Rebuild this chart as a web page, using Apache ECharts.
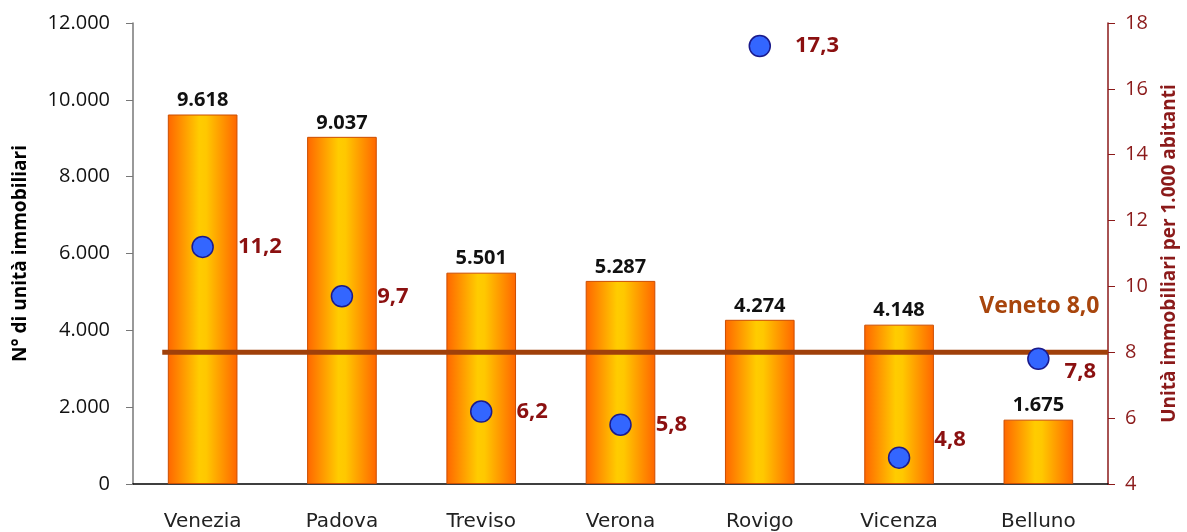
<!DOCTYPE html>
<html><head><meta charset="utf-8">
<script src="https://cdn.jsdelivr.net/npm/echarts@6/dist/echarts.min.js"></script>
<style>html,body{margin:0;padding:0;background:#fff}#c{width:1187px;height:532px}</style>
</head><body><div id="c"></div>
<script>
var categories = ['Venezia','Padova','Treviso','Verona','Rovigo','Vicenza','Belluno'];
var unita = [9618, 9037, 5501, 5287, 4274, 4148, 1675];
var perMille = [11.2, 9.7, 6.2, 5.8, 17.3, 4.8, 7.8];
var veneto = 8.0;
var leftTicks = {min: 0, max: 12000, interval: 2000};
var rightTicks = {min: 4, max: 18, interval: 2};

function fmtIt(v){ return String(v).replace(/\B(?=(\d{3})+(?!\d))/g, '.'); }
function fmtDec(v){ return v.toFixed(1).replace('.', ','); }

var FONT = '"Open Sans", "Noto Sans", sans-serif';
var labelOffsets = [[0,0],[0,0],[0,0],[0,0],[0,0],[0,-18],[-9,13]];

var chart = echarts.init(document.getElementById('c'));
chart.setOption({
  animation: false,
  grid: {left: 133, right: 74, top: 23, bottom: 47},
  xAxis: [{
    type: 'category', data: categories,
    axisLine: {lineStyle: {color: '#000', width: 1.5}},
    axisTick: {show: false},
    axisLabel: {color: '#222', fontSize: 20, fontFamily: 'DejaVu Sans, sans-serif', margin: 28}
  }, {
    type: 'value', min: -0.5, max: categories.length - 0.5, show: false
  }],
  yAxis: [{
    type: 'value', min: leftTicks.min, max: leftTicks.max, interval: leftTicks.interval,
    name: 'N° di unità immobiliari', nameLocation: 'middle', nameGap: 103, nameRotate: 90,
    nameTextStyle: {fontWeight: 'bold', fontSize: 19, color: '#000', fontFamily: FONT},
    axisLine: {show: true, onZero: false, lineStyle: {color: '#777', width: 1.5}},
    axisTick: {show: true, length: 7, lineStyle: {color: '#777'}},
    axisLabel: {color: '#111', fontSize: 20, fontFamily: FONT, margin: 23, formatter: fmtIt},
    splitLine: {show: false}
  }, {
    type: 'value', min: rightTicks.min, max: rightTicks.max, interval: rightTicks.interval,
    name: 'Unità immobiliari per 1.000 abitanti', nameLocation: 'middle', nameGap: 52, nameRotate: 90,
    nameTextStyle: {fontWeight: 'bold', fontSize: 19, color: '#8B1A1A', fontFamily: FONT},
    axisLine: {show: true, onZero: false, lineStyle: {color: '#8B1A1A', width: 1.5}},
    axisTick: {show: true, length: 7, lineStyle: {color: '#8B1A1A'}},
    axisLabel: {color: '#8B1A1A', fontSize: 20, fontFamily: FONT, margin: 17},
    splitLine: {show: false}
  }],
  series: [{
    type: 'bar', data: unita, barWidth: '50%',
    itemStyle: {
      color: new echarts.graphic.LinearGradient(0, 0, 1, 0, [
        {offset: 0, color: '#FF6600'}, {offset: 0.45, color: '#FFCC00'},
        {offset: 0.55, color: '#FFC800'}, {offset: 1, color: '#FF6600'}
      ]),
      borderColor: '#CC4E00', borderWidth: 1
    },
    label: {show: true, position: 'top', distance: 4, formatter: function(p){return fmtIt(p.value);},
      color: '#111', fontWeight: 'bold', fontSize: 20, fontFamily: FONT}
  }, {
    type: 'line', xAxisIndex: 1, yAxisIndex: 1, symbol: 'circle', symbolSize: 1, showSymbol: true,
    itemStyle: {color: 'rgba(0,0,0,0)', borderWidth: 0},
    lineStyle: {color: '#A0400A', width: 5},
    data: [[-0.29, veneto], {value: [categories.length - 0.5, veneto],
      label: {show: true, position: 'left', distance: 8, offset: [0, -46],
        formatter: 'Veneto ' + fmtDec(veneto), color: '#A8450C', fontWeight: 'bold', fontSize: 23, fontFamily: FONT}}],
    z: 3
  }, {
    type: 'scatter', yAxisIndex: 1, symbolSize: 21,
    data: perMille.map(function(v, i){ return {value: v, label: {offset: labelOffsets[i]}}; }),
    itemStyle: {color: '#3366FF', borderColor: '#1A1A8C', borderWidth: 1.5, opacity: 1},
    label: {show: true, position: 'right', distance: 24, formatter: function(p){return fmtDec(p.value);},
      color: '#8B1010', fontWeight: 'bold', fontSize: 22, fontFamily: FONT},
    z: 5
  }]
});
</script></body></html>
